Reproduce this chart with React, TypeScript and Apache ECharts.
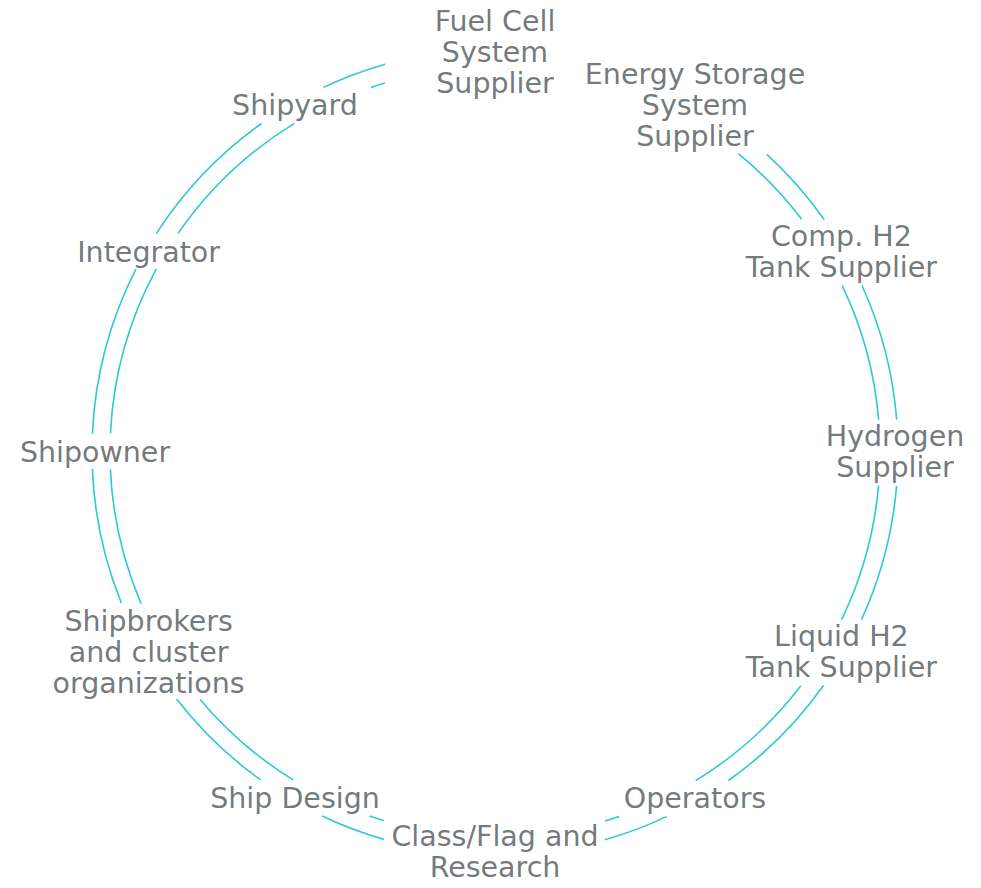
import React, { useEffect, useRef } from "react";
import * as echarts from "echarts";

// Node labels, clockwise from the top
const nodeLabels: string[] = [
  "Fuel Cell\nSystem\nSupplier",
  "Energy Storage\nSystem\nSupplier",
  "Comp. H2\nTank Supplier",
  "Hydrogen\nSupplier",
  "Liquid H2\nTank Supplier",
  "Operators",
  "Class/Flag and\nResearch",
  "Ship Design",
  "Shipbrokers\nand cluster\norganizations",
  "Shipowner",
  "Integrator",
  "Shipyard",
];

// Each link joins a node to the next one round the ring
const linkSources: number[] = nodeLabels.map((_, i) => i);

const TEXT_COLOR = "#4e565a";
const LINE_COLOR = "#2ccbd3";
const FONT = "'DejaVu Sans', Inter, sans-serif";
const FONT_SIZE = 28.5;
const LINE_HEIGHT = 31;
const RING_RATIOS = [0.9625, 1.0075];
const BOX_HALF_W = 110;

export default function App() {
  const ref = useRef<HTMLDivElement>(null);
  useEffect(() => {
    if (!ref.current) return;
    const chart = echarts.init(ref.current, null, { renderer: "svg" });
    const n = nodeLabels.length;
    const lineCounts = nodeLabels.map((s) => s.split("\n").length);

    const option: any = {
      animation: false,
      backgroundColor: "#ffffff",
      polar: { center: [495, 452], radius: 400 },
      angleAxis: {
        type: "value",
        min: 0,
        max: n,
        startAngle: 90,
        clockwise: true,
        show: false,
      },
      radiusAxis: { type: "value", min: 0, max: 1, show: false },
      series: [
        {
          type: "custom",
          coordinateSystem: "polar",
          silent: true,
          data: linkSources.map((i) => [1, i]),
          renderItem: (params: any, api: any) => {
            const i = params.dataIndex;
            const cs = params.coordSys;
            const cx = cs.cx;
            const cy = cs.cy;
            const R = cs.r;
            const boxes = nodeLabels.map((_, k) => {
              const c = api.coord([1, k]);
              const hh = lineCounts[k] * 15 + 3;
              return {
                x0: c[0] - BOX_HALF_W,
                x1: c[0] + BOX_HALF_W,
                y0: c[1] - hh,
                y1: c[1] + hh,
              };
            });
            const inside = (x: number, y: number) =>
              boxes.some((b) => x >= b.x0 && x <= b.x1 && y >= b.y0 && y <= b.y1);
            const children: any[] = [];
            const a0 = (i * 360) / n;
            const a1 = ((i + 1) * 360) / n;
            const step = 0.2;
            RING_RATIOS.forEach((ratio) => {
              const r = R * ratio;
              let runStart: number | null = null;
              const flush = (end: number) => {
                if (runStart !== null && end - runStart > 0.05) {
                  children.push({
                    type: "arc",
                    shape: {
                      cx,
                      cy,
                      r,
                      startAngle: ((runStart - 90) * Math.PI) / 180,
                      endAngle: ((end - 90) * Math.PI) / 180,
                      clockwise: true,
                    },
                    style: { stroke: LINE_COLOR, lineWidth: 1.6, fill: "none" },
                  });
                }
                runStart = null;
              };
              for (let a = a0; a <= a1 + 1e-9; a += step) {
                const rad = (a * Math.PI) / 180;
                const x = cx + r * Math.sin(rad);
                const y = cy - r * Math.cos(rad);
                const hidden = inside(x, y);
                if (!hidden && runStart === null) runStart = a;
                if (hidden && runStart !== null) flush(a);
              }
              flush(a1);
            });
            return { type: "group", children };
          },
          z: 1,
        },
        {
          type: "scatter",
          coordinateSystem: "polar",
          symbolSize: 1,
          itemStyle: { color: "transparent" },
          silent: true,
          data: nodeLabels.map((name, i) => ({ name, value: [1, i] })),
          label: {
            show: true,
            position: "inside",
            formatter: (p: any) => p.name,
            color: TEXT_COLOR,
            fontFamily: FONT,
            fontSize: FONT_SIZE,
            lineHeight: LINE_HEIGHT,
            align: "center",
            verticalAlign: "middle",
          },
          z: 2,
        },
      ],
    };
    chart.setOption(option);
    return () => chart.dispose();
  }, []);
  return (
    <div
      ref={ref}
      style={{ position: "absolute", left: 0, top: 0, width: 981, height: 888 }}
    />
  );
}
